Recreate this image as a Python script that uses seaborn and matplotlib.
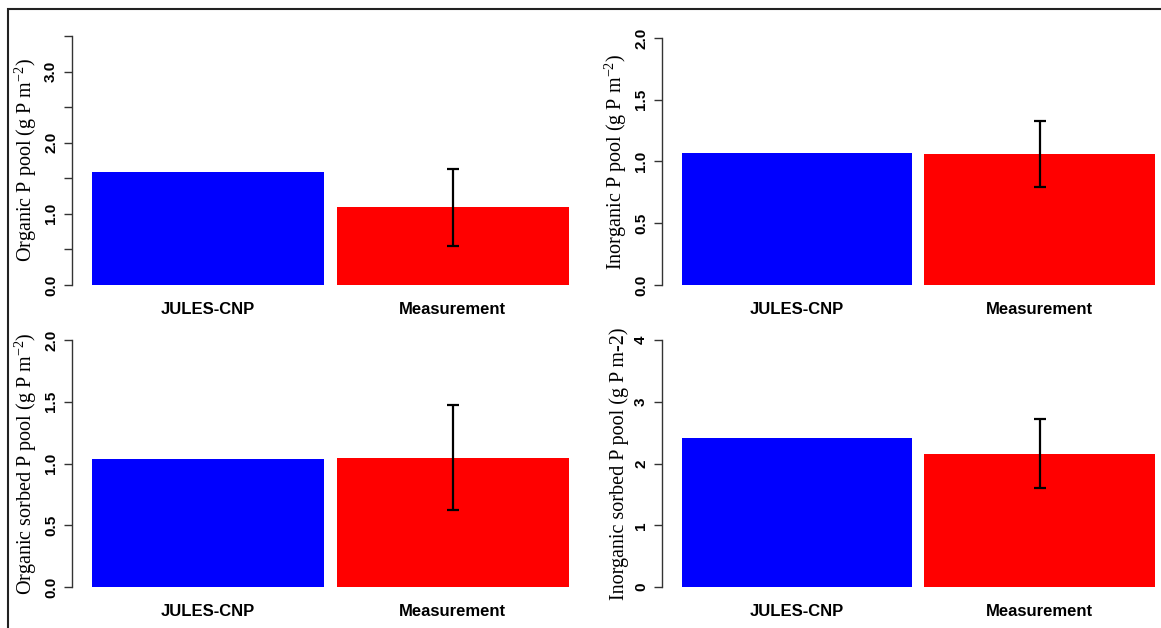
import matplotlib
matplotlib.use("Agg")
import matplotlib.pyplot as plt
import matplotlib.patches as mpatches
import seaborn as sns
import pandas as pd

sns.set_style("white")
plt.rcParams['font.family'] = ['Liberation Sans', 'DejaVu Sans']
plt.rcParams['text.color'] = 'black'
plt.rcParams['axes.labelcolor'] = 'black'
plt.rcParams['xtick.color'] = 'black'
plt.rcParams['ytick.color'] = 'black'
plt.rcParams['mathtext.fontset'] = 'custom'
plt.rcParams['mathtext.rm'] = 'Liberation Serif'
plt.rcParams['mathtext.it'] = 'Liberation Serif:italic'

# data
models = ["JULES-CNP", "Measurement"]
organic_p = [1.59, 1.09]
inorganic_p = [1.07, 1.06]
organic_sorbed_p = [1.04, 1.045]
inorganic_sorbed_p = [2.41, 2.16]
# error only on the measurement bar
organic_err = 0.54
inorganic_err = 0.265
organic_sorbed_err = 0.425
inorganic_sorbed_err = 0.56

bar_colors = ["#0000ff", "#ff0000"]

sup = r"$^{\mathregular{-2}}$"
panels = [
    # values, err, ylabel, ymax, ticks, labels, position
    (organic_p, organic_err, "Organic P pool (g P m" + sup + ")", 3.5,
     [0, 0.5, 1, 1.5, 2, 2.5, 3, 3.5], ["0.0", "", "1.0", "", "2.0", "", "3.0", ""],
     [72/1161, 1-285/628, 503/1161, 249/628]),
    (inorganic_p, inorganic_err, "Inorganic P pool (g P m" + sup + ")", 2.0,
     [0, 0.5, 1, 1.5, 2], ["0.0", "0.5", "1.0", "1.5", "2.0"],
     [662/1161, 1-285/628, 499/1161, 247/628]),
    (organic_sorbed_p, organic_sorbed_err, "Organic sorbed P pool (g P m" + sup + ")", 2.0,
     [0, 0.5, 1, 1.5, 2], ["0.0", "0.5", "1.0", "1.5", "2.0"],
     [72/1161, 1-587/628, 503/1161, 247/628]),
    (inorganic_sorbed_p, inorganic_sorbed_err, "Inorganic sorbed P pool (g P m-2)", 4,
     [0, 1, 2, 3, 4], ["0", "1", "2", "3", "4"],
     [662/1161, 1-587/628, 499/1161, 247/628]),
]

fig = plt.figure(figsize=(11.61, 6.28), dpi=100)

for vals, err, ylab, ymax, ticks, tlabels, pos in panels:
    ax = fig.add_axes(pos)
    df = pd.DataFrame({"model": models, "value": vals})
    sns.barplot(data=df, x="model", y="value", hue="model", palette=bar_colors,
                width=0.95, legend=False, ax=ax, saturation=1, edgecolor="none")
    ax.errorbar(1, vals[1], yerr=err, color="black", lw=1.6, capsize=4.5, capthick=1.6)
    ax.set_xlim(-0.557, 1.5)
    ax.set_ylim(0, ymax)
    ax.set_yticks(ticks)
    ax.set_yticklabels(tlabels, rotation=90, va="center", fontweight="bold", fontsize=11)
    ax.tick_params(axis="y", left=True, length=6, width=1, color="#333333", pad=4)
    ax.tick_params(axis="x", length=0, pad=12)
    for lab in ax.get_xticklabels():
        lab.set_fontweight("bold")
        lab.set_fontsize(12)
    ax.set_xlabel("")
    ax.set_ylabel(ylab, family=["Liberation Serif", "DejaVu Serif"], fontsize=14.5, labelpad=4)
    for s in ["top", "right", "bottom"]:
        ax.spines[s].set_visible(False)
    ax.spines["left"].set_color("#333333")
    ax.spines["left"].set_linewidth(1)

# outer frame (left and top edges visible)
fig.add_artist(mpatches.Rectangle((8/1161, -0.1), 1.2, 1 - 8.5/628 + 0.1,
                                  transform=fig.transFigure, fill=False,
                                  edgecolor="#222222", lw=1.5))

fig.savefig("out.png", dpi=100)
